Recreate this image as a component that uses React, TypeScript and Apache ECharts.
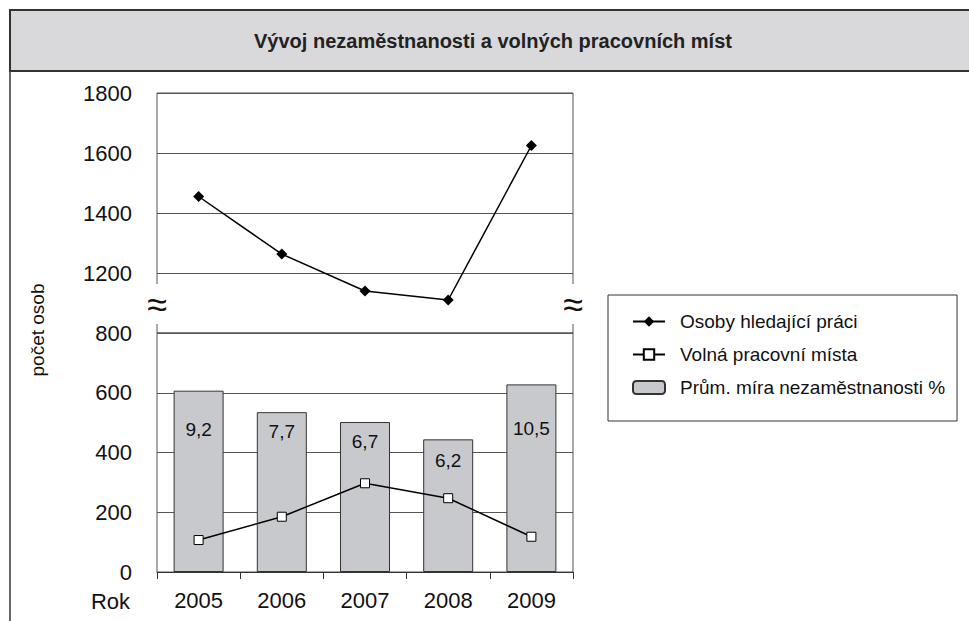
import React, { useEffect, useRef } from "react";
import * as echarts from "echarts";

// ---- data ----
const years: string[] = ["2005", "2006", "2007", "2008", "2009"];
const jobSeekers: number[] = [1455, 1263, 1140, 1110, 1625];
const vacancies: number[] = [107, 185, 297, 247, 118];
const barHeights: number[] = [607, 535, 502, 444, 628];
const unemploymentRate: number[] = [9.2, 7.7, 6.7, 6.2, 10.5];
const upperAxis = { min: 1000, max: 1800, interval: 200 };
const lowerAxis = { min: 0, max: 800, interval: 200 };

const seriesNames = [
  "Osoby hledající práci",
  "Volná pracovní místa",
  "Prům. míra nezaměstnanosti %",
];

// ---- styling ----
const FONT = "Arial, 'Liberation Sans', sans-serif";
const labelDistance = [29, 10, 10, 12, 35];
const GRID_LEFT = 157;
const GRID_W = 416;
const TOP_Y = 93;
const MID_Y = 333;
const BOT_Y = 572;
const GRID_COLOR = "#555";

export default function App() {
  const ref = useRef<HTMLDivElement>(null);

  useEffect(() => {
    if (!ref.current) return;
    const chart = echarts.init(ref.current, undefined, { renderer: "svg" });

    const option: any = {
      animation: false,
      backgroundColor: "#fff",
      textStyle: { fontFamily: FONT },
      title: {
        text: "Vývoj nezaměstnanosti a volných pracovních míst",
        left: 488,
        textAlign: "center",
        top: 26,
        textStyle: { fontFamily: FONT, fontSize: 20, fontWeight: "bold", color: "#222" },
      },
      legend: {
        orient: "vertical",
        left: 608,
        top: 295,
        padding: [17, 12, 24, 24],
        itemGap: 14,
        itemWidth: 32,
        itemHeight: 13,
        borderColor: "#333",
        borderWidth: 1,
        data: seriesNames,
        textStyle: { fontFamily: FONT, fontSize: 19, color: "#111", padding: [0, 0, 0, 10] },
      },
      grid: [
        {
          left: GRID_LEFT, width: GRID_W, top: TOP_Y, height: MID_Y - TOP_Y,
          show: true, borderColor: GRID_COLOR, borderWidth: 1,
        },
        {
          left: GRID_LEFT, width: GRID_W, top: MID_Y, height: BOT_Y - MID_Y,
          show: true, borderColor: GRID_COLOR, borderWidth: 1,
        },
      ],
      xAxis: [
        {
          gridIndex: 0, type: "category", data: years, boundaryGap: true,
          axisLine: { show: false }, axisTick: { show: false }, axisLabel: { show: false },
        },
        {
          gridIndex: 1, type: "category", data: years, boundaryGap: true,
          axisLine: { show: true, lineStyle: { color: "#333", width: 1 } },
          axisTick: { show: true, inside: false, length: 7, lineStyle: { color: "#333" } },
          axisLabel: { fontFamily: FONT, fontSize: 22, color: "#111", margin: 17 },
        },
      ],
      yAxis: [
        {
          gridIndex: 0, type: "value", ...upperAxis,
          axisLine: { show: false }, axisTick: { show: false },
          splitLine: { show: true, lineStyle: { color: GRID_COLOR, width: 1 } },
          axisLabel: {
            fontFamily: FONT, fontSize: 22, color: "#111", margin: 25,
            formatter: (v: number) => (v === upperAxis.min ? "" : String(v)),
          },
        },
        {
          gridIndex: 1, type: "value", ...lowerAxis,
          axisLine: { show: false }, axisTick: { show: false },
          splitLine: { show: true, lineStyle: { color: GRID_COLOR, width: 1 } },
          axisLabel: { fontFamily: FONT, fontSize: 22, color: "#111", margin: 25 },
        },
      ],
      series: [
        {
          name: seriesNames[2],
          type: "bar",
          xAxisIndex: 1,
          yAxisIndex: 1,
          barWidth: 50,
          itemStyle: { color: "#c8c9cd", borderColor: "#333", borderWidth: 1 },
          data: barHeights.map((v, i) => ({
            value: v,
            label: {
              show: true,
              position: "insideTop",
              distance: labelDistance[i],
              formatter: String(unemploymentRate[i]).replace(".", ","),
              fontFamily: FONT,
              fontSize: 19,
              color: "#111",
            },
          })),
        },
        {
          name: seriesNames[0],
          type: "line",
          xAxisIndex: 0,
          yAxisIndex: 0,
          data: jobSeekers,
          symbol: "diamond",
          symbolSize: 11,
          clip: false,
          lineStyle: { color: "#000", width: 1.5 },
          itemStyle: { color: "#000" },
          z: 5,
        },
        {
          name: seriesNames[1],
          type: "line",
          xAxisIndex: 1,
          yAxisIndex: 1,
          data: vacancies,
          symbol: "rect",
          symbolSize: 9,
          lineStyle: { color: "#000", width: 1.5 },
          itemStyle: { color: "#fff", borderColor: "#000", borderWidth: 1 },
          z: 5,
        },
      ],
      graphic: [
        {
          type: "rect", z: 0, silent: true,
          shape: { x: 10, y: 10, width: 980, height: 61 },
          style: { fill: "#d9d9dc", stroke: "#333", lineWidth: 2 },
        },
        {
          type: "line", z: 0, silent: true,
          shape: { x1: 10, y1: 71, x2: 10, y2: 640 },
          style: { stroke: "#333", lineWidth: 1.5 },
        },
        {
          type: "rect", z: 100, silent: true,
          shape: { x: GRID_LEFT - 8, y: 284, width: 16, height: 40 },
          style: { fill: "#fff" },
        },
        {
          type: "rect", z: 100, silent: true,
          shape: { x: GRID_LEFT + GRID_W - 8, y: 284, width: 16, height: 40 },
          style: { fill: "#fff" },
        },
        {
          type: "text", z: 101, silent: true, x: GRID_LEFT, y: 304,
          style: { text: "≈", fontSize: 36, fontFamily: FONT, fill: "#111", align: "center", verticalAlign: "middle" },
        },
        {
          type: "text", z: 101, silent: true, x: GRID_LEFT + GRID_W, y: 304,
          style: { text: "≈", fontSize: 36, fontFamily: FONT, fill: "#111", align: "center", verticalAlign: "middle" },
        },
        {
          type: "text", silent: true, x: 130, y: 601,
          style: { text: "Rok", fontSize: 22, fontFamily: FONT, fill: "#111", align: "right", verticalAlign: "middle" },
        },
        {
          type: "text", silent: true, x: 37, y: 330, rotation: Math.PI / 2,
          style: { text: "počet osob", fontSize: 19, fontFamily: FONT, fill: "#111", align: "center", verticalAlign: "middle" },
        },
      ],
    };

    chart.setOption(option);
    return () => chart.dispose();
  }, []);

  return (
    <div
      ref={ref}
      style={{ position: "fixed", left: 0, top: 0, width: 969, height: 621 }}
    />
  );
}
